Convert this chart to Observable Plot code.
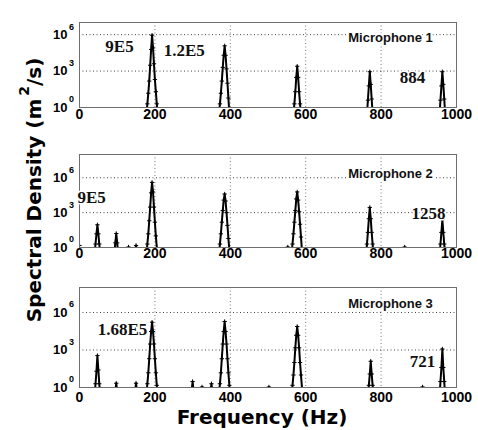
<!DOCTYPE html>
<html><head><meta charset="utf-8">
<script src="https://cdn.jsdelivr.net/npm/d3@7"></script>
<script src="https://cdn.jsdelivr.net/npm/@observablehq/plot@0.6"></script>
<style>
body{margin:0;background:#fff;}
#chart{position:relative;width:478px;height:430px;overflow:hidden;background:#fff;}
.panel{position:absolute;left:0;}
#titles{position:absolute;left:0;top:0;pointer-events:none;}
</style></head><body><div id="chart"></div>
<script>
// ---- data ----
const xTicks = [0, 200, 400, 600, 800, 1000];
const xGrid = [200, 400, 600, 800];
const yTicks = [1, 1e3, 1e6];
const yTickExp = ["0", "3", "6"];
const yGrid = [1e3, 1e6];
const micNames = ["Microphone 1", "Microphone 2", "Microphone 3"];

// Microphone 1: each inner array is one spectral peak
const mic1Freq = [
  [177.5,180,182.5,185,187.5,190,192.5,195,197.5,200,202.5,205,207.5],
  [370,372.5,375,377.5,380,382.5,385,387.5,390,392.5,395,397.5],
  [567.5,570,572.5,575,577.5,580,582.5,585,587.5],
  [762.5,765,767.5,770,772.5,775,777.5],
  [955,957.5,960,962.5,965,967.5,970]
];
const mic1Val = [
  [0.3,2,15,150,3000,6e4,9e5,8e4,4000,200,20,2,0.3],
  [0.3,2,15,150,2000,2e4,1.2e5,2e4,1500,100,6,0.3],
  [0.3,2,20,300,2500,300,20,2,0.3],
  [0.3,4,60,884,80,5,0.3],
  [0.3,4,60,884,80,5,0.3]
];
// Microphone 2
const mic2Freq = [
  [0],
  [40,42.5,45,47.5,50,52.5,55],
  [92.5,95,97.5,100,102.5],
  [130],
  [147.5,150,152.5],
  [177.5,180,182.5,185,187.5,190,192.5,195,197.5,200,202.5,205,207.5],
  [370,372.5,375,377.5,380,382.5,385,387.5,390,392.5,395,397.5,400],
  [552.5],
  [562.5,565,567.5,570,572.5,575,577.5,580,582.5,585,587.5,590,592.5],
  [760,762.5,765,767.5,770,772.5,775,777.5,780],
  [862.5],
  [955,957.5,960,962.5,965,967.5,970]
];
const mic2Val = [
  [1.5],
  [0.3,2,15,90,15,2,0.3],
  [0.3,2.5,16,2.5,0.3],
  [1.1],
  [0.5,1.5,0.5],
  [0.3,2,15,200,3000,5e4,4e5,6e4,3000,150,10,1,0.2],
  [0.3,2,15,150,1500,1.2e4,4e4,1e4,1000,80,6,0.6,0.1],
  [1.1],
  [0.3,2,15,150,1500,1.5e4,6e4,1.2e4,1200,100,8,0.6,0.1],
  [0.2,2,20,300,2800,300,20,2,0.2],
  [1.1],
  [0.2,2,20,250,20,2,0.2]
];
// Microphone 3
const mic3Freq = [
  [40,42.5,45,47.5,50,52.5,55],
  [95,97.5,100],
  [147.5,150,152.5],
  [177.5,180,182.5,185,187.5,190,192.5,195,197.5,200,202.5,205,207.5],
  [297.5,300,302.5],
  [325],
  [347.5,350,352.5],
  [370,372.5,375,377.5,380,382.5,385,387.5,390,392.5,395,397.5,400],
  [502.5],
  [562.5,565,567.5,570,572.5,575,577.5,580,582.5,585,587.5,590,592.5],
  [765,767.5,770,772.5,775,777.5,780],
  [910],
  [955,957.5,960,962.5,965,967.5,970]
];
const mic3Val = [
  [0.2,2,20,360,25,2,0.2],
  [0.5,2.2,0.5],
  [0.5,2.2,0.5],
  [0.3,2,15,200,3000,3e4,1.68e5,3e4,3000,200,15,1.5,0.2],
  [0.6,3,0.6],
  [1.1],
  [0.5,2,0.5],
  [0.3,2,15,200,3000,3e4,1.9e5,3e4,3000,200,15,1.5,0.2],
  [1.1],
  [0.2,1.5,10,100,1500,1.5e4,7.6e4,1.5e4,1500,100,10,1,0.1],
  [0.2,1.5,12,126,12,1.5,0.2],
  [1.1],
  [0.2,3,40,1200,40,3,0.2]
];

// annotation texts with their (frequency, density) anchor positions
const ann1Text = ["9E5", "1.2E5", "884"];
const ann1F = [106, 278, 883];
const ann1V = [1.05e5, 4.5e4, 270];
const ann2Text = ["9E5", "1258"];
const ann2F = [32, 926];
const ann2V = [2e4, 760];
const ann3Text = ["1.68E5", "721"];
const ann3F = [114, 910];
const ann3V = [4.4e4, 110];
const micLabelF = [825, 825, 825];
const micLabelV = [5.3e5, 2.4e6, 5.2e6];

// ---- build ----
function rowsOf(freq, val) {
  const out = [];
  freq.forEach((fs, p) => fs.forEach((f, i) => out.push({peak: p, f, v: val[p][i]})));
  return out;
}
function annOf(t, f, v) { return t.map((s, i) => ({t: s, f: f[i], v: v[i]})); }

const SANS = "'Liberation Sans', Arial, sans-serif";
const SERIF = "'Liberation Serif', 'Times New Roman', serif";

function panel(rows, anns, idx, cfg) {
  return Plot.plot({
    width: 478, height: cfg.height,
    marginLeft: 79, marginRight: 22, marginTop: cfg.mt, marginBottom: cfg.mb,
    style: {background: "transparent", overflow: "visible", fontFamily: SANS},
    x: {domain: [0, 1000], axis: null},
    y: {type: "log", domain: [1, cfg.ymax], axis: null},
    marks: [
      Plot.ruleX(xGrid, {stroke: "#777", strokeDasharray: "1,2.5", strokeWidth: 1}),
      Plot.ruleY(yGrid, {stroke: "#444", strokeDasharray: "1,2.5", strokeWidth: 1}),
      Plot.line(rows, {x: "f", y: "v", z: "peak", stroke: "black", strokeWidth: 2, clip: true}),
      Plot.dot(rows.filter(d => d.v >= 0.8), {x: "f", y: "v", symbol: "plus", r: 1.5, stroke: "black", strokeWidth: 1, clip: true}),
      Plot.frame({stroke: "#6e6e6e", strokeWidth: 1}),
      Plot.text(xTicks, {x: d => d, frameAnchor: "bottom", lineAnchor: "top", dy: cfg.xdy,
        text: d => String(d), fontSize: 14, fontWeight: "bold", fontFamily: SANS, fill: "black"}),
      Plot.text(yTicks, {y: d => d, frameAnchor: "left", textAnchor: "end", dx: -12,
        text: () => "10", fontSize: 13, fontWeight: "bold", fontFamily: SANS, fill: "black"}),
      Plot.text(yTicks, {y: d => d, frameAnchor: "left", textAnchor: "middle", dx: -8, dy: -8,
        text: (d, i) => yTickExp[i], fontSize: 9, fontWeight: "bold", fontFamily: SANS, fill: "black"}),
      Plot.text([micNames[idx]], {x: () => micLabelF[idx], y: () => micLabelV[idx], text: d => d,
        fontSize: 13, fontWeight: "bold", fontFamily: SANS, fill: "#111", stroke: "white", strokeWidth: 4}),
      Plot.text(anns, {x: "f", y: "v", text: "t", fontSize: 17, fontWeight: "bold", fontFamily: SERIF,
        fill: "#111", stroke: "white", strokeWidth: 3})
    ]
  });
}

const chart = document.getElementById("chart");
const cfgs = [
  {top: 0, height: 130, mt: 22, mb: 23, ymax: 1e7, xdy: 2},
  {top: 130, height: 137, mt: 24, mb: 20, ymax: 1e8, xdy: 1},
  {top: 267, height: 163, mt: 20, mb: 43, ymax: 1e8, xdy: 4.5}
];
const allRows = [rowsOf(mic1Freq, mic1Val), rowsOf(mic2Freq, mic2Val), rowsOf(mic3Freq, mic3Val)];
const allAnns = [annOf(ann1Text, ann1F, ann1V), annOf(ann2Text, ann2F, ann2V), annOf(ann3Text, ann3F, ann3V)];
cfgs.forEach((cfg, i) => {
  const div = document.createElement("div");
  div.className = "panel";
  div.style.top = cfg.top + "px";
  div.appendChild(panel(allRows[i], allAnns[i], i, cfg));
  chart.appendChild(div);
});

// axis titles
const TITLE = "'DejaVu Sans', Verdana, sans-serif";
const svg = d3.select("#chart").append("svg").attr("id", "titles").attr("width", 478).attr("height", 430);
svg.append("text").attr("x", 262).attr("y", 424).attr("text-anchor", "middle")
  .style("font-family", TITLE).style("font-weight", "bold").style("font-size", "20px")
  .text("Frequency (Hz)");
const yt = svg.append("text").attr("transform", "translate(41,190) rotate(-90)").attr("text-anchor", "middle")
  .style("font-family", TITLE).style("font-weight", "bold").style("font-size", "20px");
yt.append("tspan").text("Spectral Density (m");
yt.append("tspan").attr("dy", -12).attr("dx", 3).style("font-size", "14px").text("2");
yt.append("tspan").attr("dy", 12).text("/s)");
</script></body></html>
